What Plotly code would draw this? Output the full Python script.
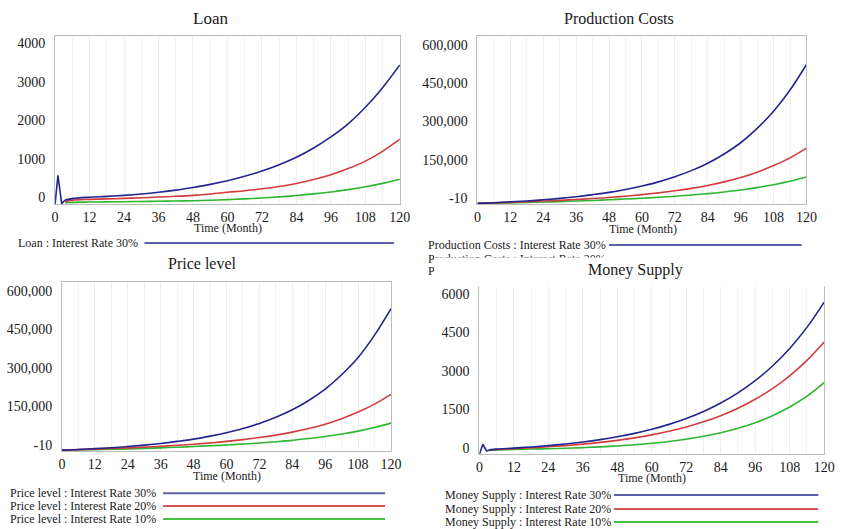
import plotly.graph_objects as go

W, H = 844, 529

# ---------------- data ----------------
months = [6, 12, 18, 24, 30, 36, 42, 48, 54, 60, 66, 72, 78, 84, 90, 96, 102, 108, 114, 120]

# Loan (initial spike segment, then 6-month readings)
loan_spike_months = [0, 1, 2.3, 3.5]
loan_spike_30 = [-180, 570, -165, -70]
loan_start_20 = -110
loan_start_10 = -140
loan_30 = [-35, 0, 22, 50, 85, 130, 185, 255, 335, 430, 545, 680, 845, 1040, 1280, 1570, 1910, 2340, 2850, 3440]
loan_20 = [-75, -55, -43, -30, -14, 5, 25, 50, 85, 130, 170, 220, 282, 360, 460, 585, 745, 940, 1195, 1510]
loan_10 = [-132, -125, -120, -115, -109, -103, -97, -90, -78, -62, -42, -18, 11, 45, 87, 138, 198, 272, 362, 470]

# Production Costs
prod_start = -20000
prod_30 = [-17500, -14000, -10500, -6000, -500, 6000, 14000, 23000, 34500, 48000, 64000, 84000,
           108000, 137000, 173000, 217000, 273000, 340000, 423000, 523000]
prod_20 = [-18000, -16000, -13700, -11000, -8200, -5000, -1200, 3000, 8000, 14000, 21000, 29000,
           38500, 50000, 64000, 81000, 102000, 128000, 158000, 196000]
prod_10 = [-19200, -18000, -16600, -15000, -13100, -11000, -8600, -6000, -3100, 0, 3800, 8000,
           12700, 18000, 24500, 32000, 41500, 53000, 66500, 83000]

# Price level
price_start = -20000
price_30 = [-17500, -14000, -10500, -6000, -500, 6000, 14000, 23000, 34500, 48000, 64000, 84000,
            108000, 137000, 173000, 217000, 273000, 340000, 427000, 530000]
price_20 = [-18000, -16000, -13700, -11000, -8200, -5000, -1200, 3000, 8000, 14000, 21000, 29000,
            38500, 50000, 64000, 81000, 102000, 128000, 159000, 197000]
price_10 = [-19200, -18000, -16600, -15000, -13100, -11000, -8600, -6000, -3100, 0, 3800, 8000,
            12700, 18000, 25000, 33000, 42500, 54000, 68000, 85000]

# Money Supply
money_spike_months = [0, 1.2, 2.5, 3.5]
money_spike_30 = [-260, 130, -130, -90]
money_start_20 = -100
money_start_10 = -110
money_30 = [-60, -20, 25, 78, 142, 219, 311, 422, 555, 714, 906, 1135, 1411, 1742, 2138, 2614,
            3186, 3872, 4694, 5682]
money_20 = [-75, -40, -8, 32, 78, 134, 202, 283, 380, 496, 636, 804, 1005, 1247, 1537, 1885,
            2302, 2803, 3404, 4125]
money_10 = [-95, -70, -58, -43, -24, -1, 28, 65, 110, 167, 239, 328, 440, 579, 753, 971,
            1243, 1584, 2009, 2541]

x_ticks = list(range(0, 121, 12))
loan_ticks = [0, 1000, 2000, 3000, 4000]
loan_ticktext = ["0", "1000", "2000", "3000", "4000"]
big_ticks = [0, 150000, 300000, 450000, 600000]
big_ticktext = ["-10", "150,000", "300,000", "450,000", "600,000"]
money_ticks = [0, 1500, 3000, 4500, 6000]
money_ticktext = ["0", "1500", "3000", "4500", "6000"]

# ---------------- style ----------------
C30, C20, C10 = "#25258f", "#d23c3c", "#2fb52f"
L30, L20, L10 = "#5a5fa6", "#d85555", "#45c045"
FONT = "Liberation Serif"
TXT = "#1a1a1a"

fig = go.Figure()

def px_x(x):
    return x / W

def px_y(y):
    return 1 - y / H

panels = {
    # name: (axis id, x0, x1, ytop, ybottom)  -- pixel layout of plot boxes
    "loan": ("", 52, 403, 36, 205),
    "prod": ("2", 482, 817, 36, 205),
    "price": ("3", 59, 394, 283, 453),
    "money": ("4", 484, 835, 287, 456),
}

def add_line(ax, xs, ys, color, shape="spline"):
    line = dict(color=color, width=1.6, shape=shape)
    if shape == "spline":
        line["smoothing"] = 1.0
    fig.add_trace(go.Scatter(
        x=xs, y=ys, mode="lines", xaxis="x" + ax, yaxis="y" + ax,
        line=line, showlegend=False, hoverinfo="skip"))

# Loan
ax = ""
add_line(ax, [loan_spike_months[-1]] + months, [loan_start_10] + loan_10, C10)
add_line(ax, [loan_spike_months[-1]] + months, [loan_start_20] + loan_20, C20)
add_line(ax, loan_spike_months, loan_spike_30, C30, shape="linear")
add_line(ax, [loan_spike_months[-1]] + months, [loan_spike_30[-1]] + loan_30, C30)

# Production
ax = "2"
add_line(ax, [0] + months, [prod_start] + prod_10, C10)
add_line(ax, [0] + months, [prod_start] + prod_20, C20)
add_line(ax, [0] + months, [prod_start] + prod_30, C30)

# Price
ax = "3"
add_line(ax, [0] + months, [price_start] + price_10, C10)
add_line(ax, [0] + months, [price_start] + price_20, C20)
add_line(ax, [0] + months, [price_start] + price_30, C30)

# Money
ax = "4"
add_line(ax, [money_spike_months[-1]] + months, [money_start_10] + money_10, C10)
add_line(ax, [money_spike_months[-1]] + months, [money_start_20] + money_20, C20)
add_line(ax, money_spike_months, money_spike_30, C30, shape="linear")
add_line(ax, [money_spike_months[-1]] + months, [money_spike_30[-1]] + money_30, C30)

yranges = {
    "loan": ([-181, 4197], loan_ticks, loan_ticktext),
    "prod": ([-23400, 635000], big_ticks, big_ticktext),
    "price": ([-24400, 633700], big_ticks, big_ticktext),
    "money": ([-261, 6313], money_ticks, money_ticktext),
}

layout = dict(
    width=W, height=H, margin=dict(l=0, r=0, t=0, b=0),
    paper_bgcolor="white", plot_bgcolor="white", showlegend=False,
    font=dict(family=FONT, color=TXT, size=13),
)

for name, (ax, x0, x1, yt, yb) in panels.items():
    yr, tv, tt = yranges[name]
    layout["xaxis" + ax] = dict(
        domain=[px_x(x0), px_x(x1)], range=[0, 120], anchor="y" + ax,
        tickvals=x_ticks, ticktext=[str(v) for v in x_ticks],
        showgrid=True, gridcolor="#efefef", gridwidth=1,
        minor=dict(tickmode="linear", tick0=0, dtick=6, showgrid=True, gridcolor="#f2f2f2"),
        showline=True, linecolor="#bdbdbd", linewidth=1, mirror=True,
        zeroline=False, ticks="", tickfont=dict(family=FONT, size=14, color=TXT),
        ticklabelstandoff=0,
    )
    layout["yaxis" + ax] = dict(
        domain=[px_y(yb), px_y(yt)], range=yr, anchor="x" + ax,
        tickvals=tv, ticktext=tt, showgrid=False,
        showline=True, linecolor="#bdbdbd", linewidth=1, mirror=True,
        zeroline=False, ticks="", tickfont=dict(family=FONT, size=14, color=TXT),
        ticklabelstandoff=6,
    )

fig.update_layout(**layout)

annotations = []
shapes = []

def text(x, y, s, size=12, anchor="left", color=TXT):
    annotations.append(dict(
        x=px_x(x), y=px_y(y), xref="paper", yref="paper", text=s, showarrow=False,
        xanchor=anchor, yanchor="middle", font=dict(family=FONT, size=size, color=color)))

def legend_line(x0, x1, y, color):
    shapes.append(dict(type="line", xref="paper", yref="paper",
                       x0=px_x(x0), x1=px_x(x1), y0=px_y(y), y1=px_y(y),
                       line=dict(color=color, width=2)))

# x-axis titles
text(228, 229, "Time (Month)", 12, "center")
text(651, 230, "Time (Month)", 12, "center")
text(227, 478, "Time (Month)", 12, "center")
text(660, 480, "Time (Month)", 12, "center")

# legends
text(12, 244, "Loan : Interest Rate 30%")
legend_line(143, 397, 244, L30)

text(430, 246, "Production Costs : Interest Rate 30%")
legend_line(616, 812, 246, L30)
text(430, 260, "Production Costs : Interest Rate 20%")
text(430, 272, "Production Costs : Interest Rate 10%")

text(4, 495, "Price level : Interest Rate 30%")
text(4, 508, "Price level : Interest Rate 20%")
text(4, 521, "Price level : Interest Rate 10%")
legend_line(162, 388, 495, L30)
legend_line(162, 388, 508, L20)
legend_line(162, 388, 521, L10)

text(447, 497, "Money Supply : Interest Rate 30%")
text(447, 511, "Money Supply : Interest Rate 20%")
text(447, 524, "Money Supply : Interest Rate 10%")
legend_line(621, 829, 497, L30)
legend_line(621, 829, 511, L20)
legend_line(621, 829, 524, L10)

# white panel overlap covering the truncated legend rows
annotations.append(dict(
    x=px_x(438), y=px_y(257.5), xref="paper", yref="paper", text=" ", showarrow=False,
    xanchor="left", yanchor="top", width=406, height=28, bgcolor="white", borderpad=0,
    font=dict(size=4)))

# titles
text(210, 19, "Loan", 17, "center")
text(626, 19, "Production Costs", 16, "center")
text(202, 265, "Price level", 16, "center")
text(643, 271, "Money Supply", 16, "center")

fig.update_layout(annotations=annotations, shapes=shapes)
fig.write_html(
    "out.html",
    config={"displayModeBar": False},
    post_script="document.body.style.margin='0';document.body.style.overflow='hidden';",
)
